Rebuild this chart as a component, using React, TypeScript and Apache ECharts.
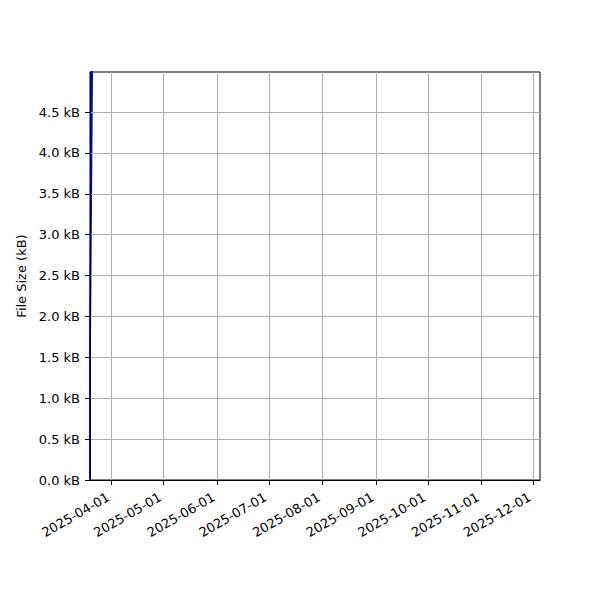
import React, { useEffect, useRef } from "react";
import * as echarts from "echarts";

const sizeSeries: [string, number][] = [
  ["2025-03-18T19:00:00", 0.0],
  ["2025-03-20T20:30:00", 5.74],
  ["2025-03-21T12:00:00", 8.6],
];

const monthTicks = [
  "2025-04-01",
  "2025-05-01",
  "2025-06-01",
  "2025-07-01",
  "2025-08-01",
  "2025-09-01",
  "2025-10-01",
  "2025-11-01",
  "2025-12-01",
];

const sizeTicks = [0, 0.5, 1.0, 1.5, 2.0, 2.5, 3.0, 3.5, 4.0, 4.5];

const xStart = "2025-03-19T10:00:00";
const xEnd = "2025-12-04T22:00:00";
const yTop = 4.99;

const pad = (n: number) => (n < 10 ? "0" + n : "" + n);
const fmtDate = (v: number) => {
  const d = new Date(v);
  return `${d.getFullYear()}-${pad(d.getMonth() + 1)}-${pad(d.getDate())}`;
};

const font = "DejaVu Sans";

const App: React.FC = () => {
  const chartRef = useRef<HTMLDivElement>(null);

  useEffect(() => {
    document.body.style.margin = "0";
    if (!chartRef.current) return;
    const chart = echarts.init(chartRef.current, undefined, { renderer: "svg" });

    const monthValues = monthTicks.map((t) => new Date(t + "T00:00:00").getTime());

    const option: echarts.EChartsOption = {
      animation: false,
      backgroundColor: "#ffffff",
      textStyle: { fontFamily: font },
      grid: {
        left: 90,
        right: 60,
        top: 72,
        bottom: 120,
        show: true,
        borderColor: "#000000",
        borderWidth: 1,
        backgroundColor: "transparent",
      },
      xAxis: {
        type: "value",
        z: 5,
        min: new Date(xStart).getTime(),
        max: new Date(xEnd).getTime(),
        axisLine: { show: true, lineStyle: { color: "#000000", width: 1 } },
        axisTick: {
          show: true,
          length: 5,
          lineStyle: { color: "#000000", width: 1 },
          customValues: monthValues,
        } as any,
        axisLabel: {
          rotate: 30,
          color: "#000000",
          fontSize: 13,
          fontFamily: font,
          margin: 14,
          padding: [0, 4, 0, 0],
          customValues: monthValues,
          formatter: (v: number) => fmtDate(v),
        } as any,
        splitLine: { show: true, lineStyle: { color: "#b0b0b0", width: 1 } },
      },
      yAxis: {
        type: "value",
        z: 5,
        min: 0,
        max: yTop,
        name: "File Size (kB)",
        nameLocation: "middle",
        nameGap: 56,
        nameTextStyle: { color: "#000000", fontSize: 13, fontFamily: font },
        axisLine: { show: true, lineStyle: { color: "#000000", width: 1 } },
        axisTick: {
          show: true,
          length: 5,
          lineStyle: { color: "#000000", width: 1 },
          customValues: sizeTicks,
        } as any,
        axisLabel: {
          color: "#000000",
          fontSize: 13,
          fontFamily: font,
          margin: 10,
          customValues: sizeTicks,
          formatter: (v: number) => `${v.toFixed(1)} kB`,
        } as any,
        splitLine: { show: true, lineStyle: { color: "#b0b0b0", width: 1 } },
      },
      series: [
        {
          type: "line",
          data: sizeSeries.map(([t, v]) => [new Date(t).getTime(), v]),
          showSymbol: false,
          clip: true,
          z: 3,
          lineStyle: { color: "#0000ff", width: 2 },
        },
      ],
    };

    chart.setOption(option);
    return () => {
      chart.dispose();
    };
  }, []);

  return <div ref={chartRef} style={{ width: "600px", height: "600px" }} />;
};

export default App;
